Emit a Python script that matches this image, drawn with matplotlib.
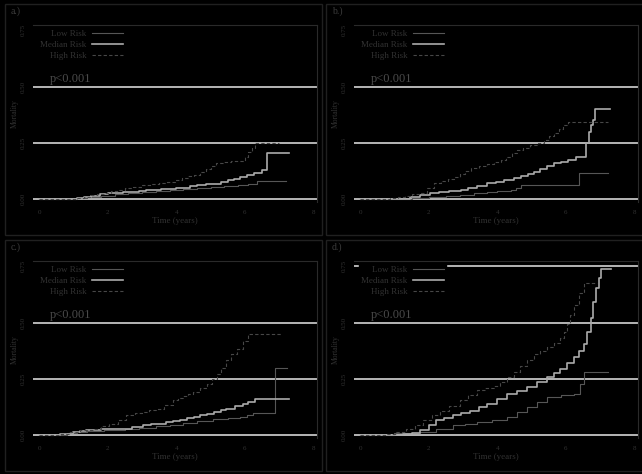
import matplotlib
matplotlib.use("Agg")
import matplotlib.pyplot as plt
from matplotlib.patches import Rectangle

# cumulative mortality step curves, one set per panel (time in years)
low_a_t = [0, 1.1, 1.4, 1.8, 2.2, 2.6, 3.0, 3.4, 3.8, 4.2, 4.6, 5.0, 5.4, 5.8, 6.1, 6.35, 7.2]
low_a_y = [0, 0.005, 0.01, 0.016, 0.022, 0.027, 0.032, 0.037, 0.041, 0.045, 0.05, 0.055, 0.058, 0.062, 0.07, 0.081, 0.081]
med_a_t = [0, 1.1, 1.3, 1.5, 1.78, 2.0, 2.2, 2.45, 2.7, 2.9, 3.1, 3.33, 3.55, 3.8, 4.0, 4.2, 4.4, 4.6,
           4.85, 5.08, 5.3, 5.5, 5.67, 5.85, 6.05, 6.25, 6.49, 6.64, 7.27]
med_a_y = [0, 0.005, 0.01, 0.016, 0.025, 0.027, 0.029, 0.031, 0.034, 0.037, 0.04, 0.042, 0.044, 0.047, 0.049,
           0.052, 0.057, 0.062, 0.066, 0.07, 0.077, 0.085, 0.092, 0.1, 0.11, 0.118, 0.13, 0.205, 0.205]
high_a_t = [0, 1.1, 1.3, 1.5, 1.7, 1.9, 2.1, 2.3, 2.5, 2.75, 3.0, 3.3, 3.5, 3.72, 3.95, 4.15, 4.35, 4.5,
            4.7, 4.85, 5.0, 5.15, 5.35, 5.6, 5.86, 6.0, 6.1, 6.2, 6.3, 7.0]
high_a_y = [0, 0.005, 0.012, 0.018, 0.024, 0.03, 0.036, 0.042, 0.048, 0.056, 0.062, 0.068, 0.073, 0.078,
            0.085, 0.093, 0.102, 0.11, 0.12, 0.135, 0.15, 0.16, 0.165, 0.168, 0.17, 0.19, 0.21, 0.23, 0.25, 0.25]

low_b_t = [0, 1.5, 2.0, 2.5, 2.9, 3.32, 3.7, 4.0, 4.39, 4.55, 4.68, 6.38, 7.22]
low_b_y = [0, 0.006, 0.011, 0.016, 0.021, 0.027, 0.031, 0.036, 0.041, 0.052, 0.064, 0.118, 0.118]
med_b_t = [0, 1.2, 1.46, 1.75, 2.05, 2.3, 2.6, 2.93, 3.15, 3.4, 3.7, 3.95, 4.2, 4.49, 4.7, 4.9, 5.07,
           5.25, 5.45, 5.66, 5.85, 6.05, 6.29, 6.59, 6.67, 6.72, 6.78, 6.86, 7.27]
med_b_y = [0, 0.003, 0.01, 0.02, 0.027, 0.031, 0.036, 0.041, 0.05, 0.06, 0.071, 0.078, 0.085, 0.093, 0.103,
           0.113, 0.123, 0.133, 0.146, 0.16, 0.167, 0.175, 0.19, 0.25, 0.30, 0.33, 0.352, 0.401, 0.401]
high_b_t = [0, 0.88, 1.1, 1.3, 1.5, 1.76, 1.95, 2.15, 2.35, 2.55, 2.73, 2.9, 3.05, 3.22, 3.45, 3.7, 3.9,
            4.1, 4.25, 4.42, 4.58, 4.75, 4.95, 5.17, 5.35, 5.5, 5.66, 5.8, 5.92, 6.05, 7.22]
high_b_y = [0, 0.005, 0.01, 0.016, 0.022, 0.03, 0.05, 0.071, 0.08, 0.09, 0.1, 0.112, 0.125, 0.138, 0.148,
            0.158, 0.166, 0.175, 0.19, 0.205, 0.22, 0.23, 0.24, 0.25, 0.265, 0.28, 0.293, 0.31, 0.33, 0.342, 0.342]

low_c_t = [0, 0.8, 1.1, 1.4, 1.9, 2.5, 2.9, 3.41, 3.8, 4.2, 4.6, 5.07, 5.5, 5.85, 6.05, 6.24, 6.88, 7.22]
low_c_y = [0, 0.01, 0.015, 0.02, 0.023, 0.026, 0.033, 0.04, 0.047, 0.055, 0.064, 0.074, 0.078, 0.081, 0.09,
           0.1, 0.30, 0.30]
med_c_t = [0, 0.6, 0.98, 1.2, 1.37, 1.8, 2.44, 2.7, 3.02, 3.25, 3.5, 3.7, 3.9, 4.1, 4.3, 4.5, 4.68, 4.9,
           5.1, 5.3, 5.46, 5.7, 5.95, 6.1, 6.29, 7.27]
med_c_y = [0, 0.005, 0.015, 0.02, 0.025, 0.028, 0.03, 0.037, 0.044, 0.048, 0.052, 0.057, 0.062, 0.068, 0.075,
           0.082, 0.089, 0.096, 0.104, 0.111, 0.118, 0.129, 0.14, 0.15, 0.16, 0.16]
high_c_t = [0, 0.58, 0.88, 1.2, 1.56, 1.8, 2.05, 2.3, 2.54, 2.8, 3.0, 3.2, 3.41, 3.65, 3.9, 4.05, 4.2, 4.35,
            4.49, 4.7, 4.88, 5.03, 5.17, 5.3, 5.46, 5.6, 5.76, 5.93, 6.1, 7.07]
high_c_y = [0, 0.005, 0.015, 0.022, 0.03, 0.04, 0.052, 0.07, 0.089, 0.098, 0.105, 0.112, 0.118, 0.135, 0.155,
            0.165, 0.175, 0.184, 0.192, 0.21, 0.23, 0.252, 0.274, 0.3, 0.333, 0.36, 0.385, 0.42, 0.45, 0.45]

low_d_t = [0, 0.27, 1.0, 1.73, 2.2, 2.71, 3.05, 3.4, 3.85, 4.28, 4.58, 4.87, 5.15, 5.45, 5.85, 6.23, 6.4,
           6.52, 7.22]
low_d_y = [0, 0.003, 0.008, 0.015, 0.028, 0.044, 0.052, 0.059, 0.07, 0.081, 0.103, 0.125, 0.148, 0.17, 0.177,
           0.184, 0.23, 0.28, 0.28]
med_d_t = [0, 1.25, 1.5, 1.73, 2.0, 2.22, 2.45, 2.71, 2.95, 3.2, 3.45, 3.69, 3.98, 4.28, 4.58, 4.87, 5.15,
           5.45, 5.65, 5.84, 6.03, 6.23, 6.38, 6.52, 6.62, 6.72, 6.8, 6.87, 6.95, 7.02, 7.31]
med_d_y = [0, 0.005, 0.012, 0.022, 0.045, 0.066, 0.078, 0.088, 0.098, 0.11, 0.125, 0.14, 0.162, 0.184, 0.198,
           0.213, 0.235, 0.257, 0.275, 0.294, 0.32, 0.346, 0.375, 0.404, 0.46, 0.522, 0.59, 0.654, 0.7, 0.738, 0.738]
high_d_t = [0, 0.27, 0.76, 1.05, 1.35, 1.6, 1.84, 2.1, 2.33, 2.6, 2.91, 3.15, 3.4, 3.65, 3.89, 4.08, 4.28,
            4.48, 4.67, 4.87, 5.06, 5.25, 5.45, 5.65, 5.84, 5.94, 6.04, 6.13, 6.23, 6.38, 6.52, 6.91]
high_d_y = [0, 0.003, 0.007, 0.016, 0.03, 0.047, 0.066, 0.088, 0.11, 0.13, 0.155, 0.178, 0.2, 0.21, 0.22,
            0.238, 0.257, 0.283, 0.309, 0.335, 0.36, 0.375, 0.39, 0.41, 0.434, 0.46, 0.493, 0.535, 0.58, 0.63,
            0.676, 0.676]

panel_labels = ["a.)", "b.)", "c.)", "d.)"]
group_names = ["Low Risk", "Median Risk", "High Risk"]
p_text = "p<0.001"
y_ticks = [0.0, 0.25, 0.50, 0.75]
y_ticklabels = ["0.00", "0.25", "0.50", "0.75"]
x_ticks = [0, 2, 4, 6, 8]

panels = [
    [(low_a_t, low_a_y), (med_a_t, med_a_y), (high_a_t, high_a_y)],
    [(low_b_t, low_b_y), (med_b_t, med_b_y), (high_b_t, high_b_y)],
    [(low_c_t, low_c_y), (med_c_t, med_c_y), (high_c_t, high_c_y)],
    [(low_d_t, low_d_y), (med_d_t, med_d_y), (high_d_t, high_d_y)],
]
ref_lines = [[0, 0.25, 0.5], [0, 0.25, 0.5], [0, 0.25, 0.5], [0, 0.25, 0.5, 0.75]]

plt.rcParams["font.family"] = ["Liberation Serif", "DejaVu Serif"]

W, H = 642, 474
fig = plt.figure(figsize=(W / 100, H / 100), dpi=100, facecolor="black")

origins = [(0, 0), (321, 0), (0, 236), (321, 236)]
styles = [
    dict(color="#565656", lw=0.8, ls="-"),
    dict(color="#ababab", lw=1.2, ls="-"),
    dict(color="#474747", lw=0.8, ls=(0, (3, 2))),
]
txt = "#323232"

for i, (ox, oy) in enumerate(origins):
    # panel frame
    fig.add_artist(Rectangle(((ox + 5) / W, 1 - (oy + 235) / H), 317 / W, 231 / H,
                             transform=fig.transFigure, fill=False,
                             edgecolor="#202020", lw=1))

    left, right, top, bottom = ox + 33, ox + 317, oy + 25, oy + 202
    ax = fig.add_axes([left / W, 1 - bottom / H, (right - left) / W, (bottom - top) / H])
    ax.set_facecolor("black")
    ax.set_xlim(-0.18, 8.1)
    ax.set_ylim(-0.012, 0.774)

    for h in ref_lines[i]:
        ax.axhline(h, color="#c4c4c4", lw=1.3, zorder=1)

    handles = []
    for (t, y), st in zip(panels[i], styles):
        ln, = ax.plot(t, y, drawstyle="steps-post", zorder=2, **st)
        handles.append(ln)

    leg = ax.legend(handles, group_names, loc="upper left", bbox_to_anchor=(0.018, 0.985),
                    markerfirst=False, fontsize=6.5, handlelength=3.4, handletextpad=0.6,
                    labelspacing=0.3, borderpad=0.25, borderaxespad=0,
                    facecolor="black", edgecolor="black", framealpha=1, fancybox=False)
    for t in leg.get_texts():
        t.set_color(txt)
    leg.set_zorder(5)

    ax.text(0.06, 0.695, p_text, transform=ax.transAxes, fontsize=9,
            color="#4a4a4a", va="center", ha="left")

    for s in ["left", "bottom"]:
        ax.spines[s].set_visible(False)
    for s in ["top", "right"]:
        ax.spines[s].set_color("#2a2a2a")
        ax.spines[s].set_linewidth(0.8)

    ax.set_yticks(y_ticks)
    ax.set_yticklabels(y_ticklabels, rotation=90, va="center")
    ax.set_xticks(x_ticks)
    ax.tick_params(axis="both", length=0, labelsize=5, colors=txt)
    ax.tick_params(axis="y", pad=5)
    ax.tick_params(axis="x", pad=6)
    ax.set_xlabel("Time (years)", fontsize=6.5, color=txt, labelpad=1)
    ax.set_ylabel("Mortality", fontsize=5.5, color=txt, labelpad=2)

    fig.text((ox + 11) / W, 1 - (oy + 11) / H, panel_labels[i], fontsize=7,
             color="#3c3c3c", va="center", ha="left")

fig.savefig("out.png", dpi=100, facecolor="black")
